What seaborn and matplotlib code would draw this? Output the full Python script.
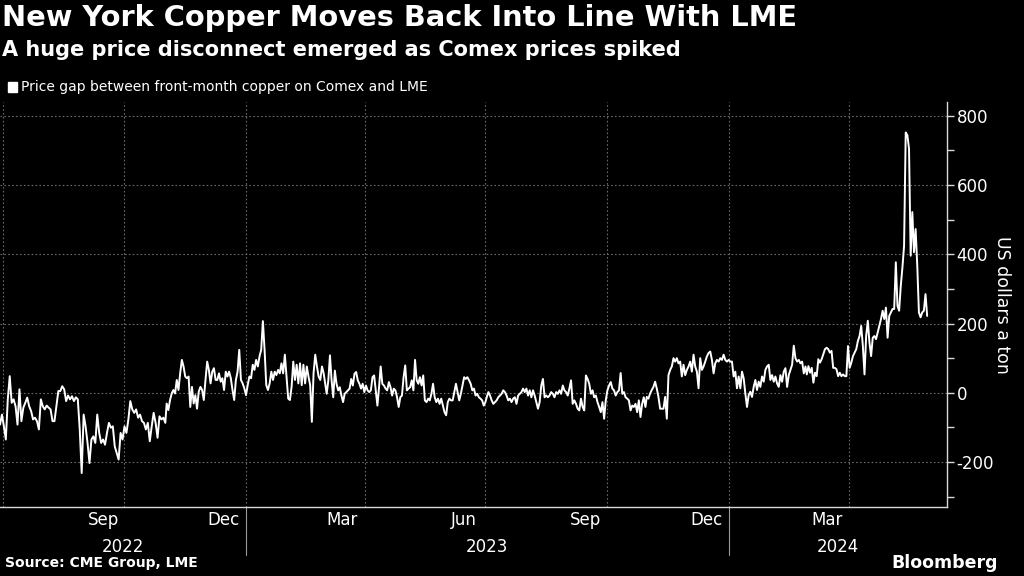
import matplotlib
matplotlib.use("Agg")
import matplotlib.pyplot as plt
import matplotlib.dates as mdates
import matplotlib.transforms as mtransforms
from matplotlib.ticker import MultipleLocator
import pandas as pd
import seaborn as sns

# Comex minus LME front-month copper, US$/t
gap_jul_oct22 = [-92, -63, -97, -135, -19, 48, -29, -19, -39, -92, 10, -82, -43, -29, -14,
                 -39, -53, -77, -72, -82, -106, -19, -39, -48, -37, -43, -48, -82, -82, -39,
                 5, 5, 19, 10, -24, -8, -19, -10, -24, -13, -19, -106, -232, -63, -97, -145,
                 -203, -135, -126, -145, -63, -116, -145, -135, -150, -116, -87, -101, -97,
                 -155, -174, -193, -116, -135, -97, -116, -77, -24, -48, -58, -48, -72, -63,
                 -82, -87, -106, -87, -140, -97, -58, -87, -130, -68, -77, -72, -87]
gap_nov22_feb23 = [-31, -50, -21, -2, 8, -2, 37, 8, 56, 95, 76, 47, 42, 47, -41, 17, -31, -7,
                   -46, 3, 17, 8, -21, 37, 90, 66, 27, 61, 71, 37, 37, 56, 32, 42, 8, 61, 47,
                   61, 42, 8, -21, 37, 61, 124, 37, 27, 13, -7, 22, 47, 42, 81, 66, 95, 76,
                   105, 124, 207, 124, 22, 8, 27, 61, 37, 61, 51, 66, 56, 85, 56, 110, 47,
                   -17, -21, 17, 90, 37, 81, 27, 85, 22, 81, 27, 76, 47, 22, -84, 56, 110, 76,
                   47, 37, 76, 56, 22]
gap_mar_jun23 = [-3, 36, 108, 36, -13, 64, 26, 7, 16, -8, -27, -3, 2, 7, 12, 40, 21, 55, 60,
                 36, 26, 12, 26, 2, 21, 7, 2, 7, 45, 50, 7, -37, 16, 76, 26, 21, 12, 7, 31, 16,
                 -8, 12, 7, -13, -41, -13, -8, 45, 79, 7, 12, 16, 36, 7, 95, 36, 26, 45, 21, 50,
                 -22, -27, -17, -22, -3, 26, -13, -27, -17, -32, -17, -37, -56, -65, -27, -17,
                 -22, -22, 2, 26, 2, -22, -3, 21, 45, 40, 45, 36, 26, 7, 12, -8, -3, -13, -17,
                 -22, -37, -27]
gap_jul_oct23 = [-13, 2, -8, -22, -32, -27, -22, -13, -8, -3, 7, 2, -8, -22, -17, -27, -17,
                 -13, -32, -8, -3, 2, 12, 2, 12, -8, 7, -13, 7, -8, -27, -46, -27, 21, 40, -13,
                 -8, -13, -8, 2, -3, -13, 2, -3, 7, -3, 21, 7, 2, -8, 12, 36, -32, -22, -32,
                 -46, -51, -17, -41, -51, 50, 40, 26, -3, 7, -13, -8, -27, -41, -56, -27, -75,
                 -22, 7, 21, 31, 12, 7, -8, 2, 7, 57, -3, 2, -13, -17, -22, -51, -37, -41, -32,
                 -56, -22, -70, -32, -13, -41]
gap_nov23_feb24 = [-12, -17, -2, 8, 17, 32, 12, -12, -46, -46, -46, -12, -75, 51, 66, 76, 100,
                   90, 100, 85, 90, 47, 81, 51, 66, 76, 90, 61, 110, 76, 61, 13, 100, 66, 76,
                   90, 105, 115, 119, 95, 56, 85, 95, 90, 100, 95, 110, 95, 90, 95, 90, 90, 47,
                   61, 13, 47, 13, 61, 42, -2, -41, -7, 3, -12, 17, 37, 8, 32, 17, 47, 32, 66,
                   76, 81, 37, 51, 32, 47, 27, 17, 51, 32, 61, 71, 17, 51, 66, 81, 136, 100, 90,
                   95, 85, 90, 56, 76]
gap_mar_may24 = [53, 77, 58, 72, 29, 58, 48, 97, 87, 97, 111, 126, 130, 126, 116, 121, 72, 72,
                 68, 48, 58, 48, 53, 48, 48, 135, 72, 87, 106, 116, 126, 150, 164, 193, 135, 53,
                 164, 208, 145, 106, 159, 164, 155, 174, 193, 213, 237, 213, 246, 159, 222, 232,
                 242, 242, 377, 251, 237, 309, 362, 425, 752, 744, 705, 396, 522, 406, 473, 367,
                 232, 218, 232, 237, 285, 222]

chunks = [gap_jul_oct22, gap_nov22_feb23, gap_mar_jun23,
          gap_jul_oct23, gap_nov23_feb24, gap_mar_may24]
chunk_dates = [("2022-06-29", "2022-11-01"), ("2022-11-02", "2023-03-02"),
               ("2023-03-03", "2023-07-01"), ("2023-07-02", "2023-10-30"),
               ("2023-10-31", "2024-02-28"), ("2024-02-29", "2024-05-30")]

month_labels = ["Sep", "Dec", "Mar", "Jun", "Sep", "Dec", "Mar"]
month_dates = ["2022-09-15", "2022-12-15", "2023-03-15", "2023-06-15",
               "2023-09-15", "2023-12-15", "2024-03-15"]
years = ["2022", "2023", "2024"]

x_start, x_end = pd.Timestamp("2022-06-29"), pd.Timestamp("2024-06-14")

frames = []
for vals, (s, e) in zip(chunks, chunk_dates):
    frames.append(pd.DataFrame({"date": pd.date_range(s, e, periods=len(vals)), "gap": vals}))
df = pd.concat(frames, ignore_index=True)

sns.set_style("dark", {"axes.facecolor": "black", "figure.facecolor": "black"})
plt.rcParams["font.family"] = ["DejaVu Sans"]
plt.rcParams["axes.unicode_minus"] = False

fig = plt.figure(figsize=(10.24, 5.76), dpi=100)
ax = fig.add_axes([0.0, 0.1198, 0.9248, 0.7031])
fc = "#d9d9d9"

sns.lineplot(data=df, x="date", y="gap", color="white", lw=1.4, ax=ax)

ax.set_xlim(x_start, x_end)
ax.set_ylim(-330, 840)

# y axis on the right
ax.yaxis.tick_right()
ax.yaxis.set_label_position("right")
ax.yaxis.set_major_locator(MultipleLocator(200))
ax.yaxis.set_minor_locator(MultipleLocator(100))
ax.tick_params(axis="y", which="both", colors=fc, labelcolor="white", labelsize=12,
               length=5, width=1, direction="out", pad=2)
ax.set_ylabel("US dollars a ton", color="white", fontsize=12.5, rotation=270, labelpad=12)

# x axis: quarter gridlines, monthly tick marks, labels drawn below
ax.xaxis.set_major_locator(mdates.MonthLocator(bymonth=[1, 4, 7, 10]))
ax.xaxis.set_minor_locator(mdates.MonthLocator())
ax.xaxis.set_major_formatter(plt.NullFormatter())
ax.tick_params(axis="x", which="both", colors=fc, length=5, width=1, direction="out")
ax.set_xlabel("")

ax.grid(True, which="major", color="#6a6a6a", linestyle=(0, (1.5, 2)), lw=0.8)

for side in ["top", "left"]:
    ax.spines[side].set_visible(False)
for side in ["right", "bottom"]:
    ax.spines[side].set_visible(True)
    ax.spines[side].set_color(fc)
    ax.spines[side].set_linewidth(1)

trans = mtransforms.blended_transform_factory(ax.transData, ax.transAxes)
for lab, d in zip(month_labels, month_dates):
    ax.text(pd.Timestamp(d), -0.032, lab, transform=trans, ha="center", va="center",
            color="white", fontsize=12)

for i, y in enumerate(years):
    lo = max(pd.Timestamp(f"{y}-01-01"), x_start)
    hi = min(pd.Timestamp(f"{int(y) + 1}-01-01"), x_end)
    ax.text(lo + (hi - lo) / 2, -0.1, y, transform=trans, ha="center", va="center",
            color="white", fontsize=12)
    if i > 0:
        ax.plot([pd.Timestamp(f"{y}-01-01")] * 2, [0, -0.118], transform=trans,
                color="#9a9a9a", lw=0.8, clip_on=False)

# header, legend, footer
fig.text(0.002, 0.969, "New York Copper Moves Back Into Line With LME", color="white",
         fontsize=20.8, fontweight="bold", ha="left", va="center")
fig.text(0.002, 0.913, "A huge price disconnect emerged as Comex prices spiked", color="white",
         fontsize=15, fontweight="bold", ha="left", va="center")
fig.patches.append(plt.Rectangle((8 / 1024, 1 - 92 / 576), 9 / 1024, 10 / 576,
                                 transform=fig.transFigure, color="white"))
fig.text(21 / 1024, 0.849, "Price gap between front-month copper on Comex and LME",
         color="white", fontsize=10, ha="left", va="center")
fig.text(0.005, 0.0226, "Source: CME Group, LME", color="white", fontsize=10,
         fontweight="bold", ha="left", va="center")
fig.text(0.974, 0.0226, "Bloomberg", color="white", fontsize=12.5, fontweight="bold",
         ha="right", va="center")

fig.savefig("out.png", dpi=100, facecolor="black")
